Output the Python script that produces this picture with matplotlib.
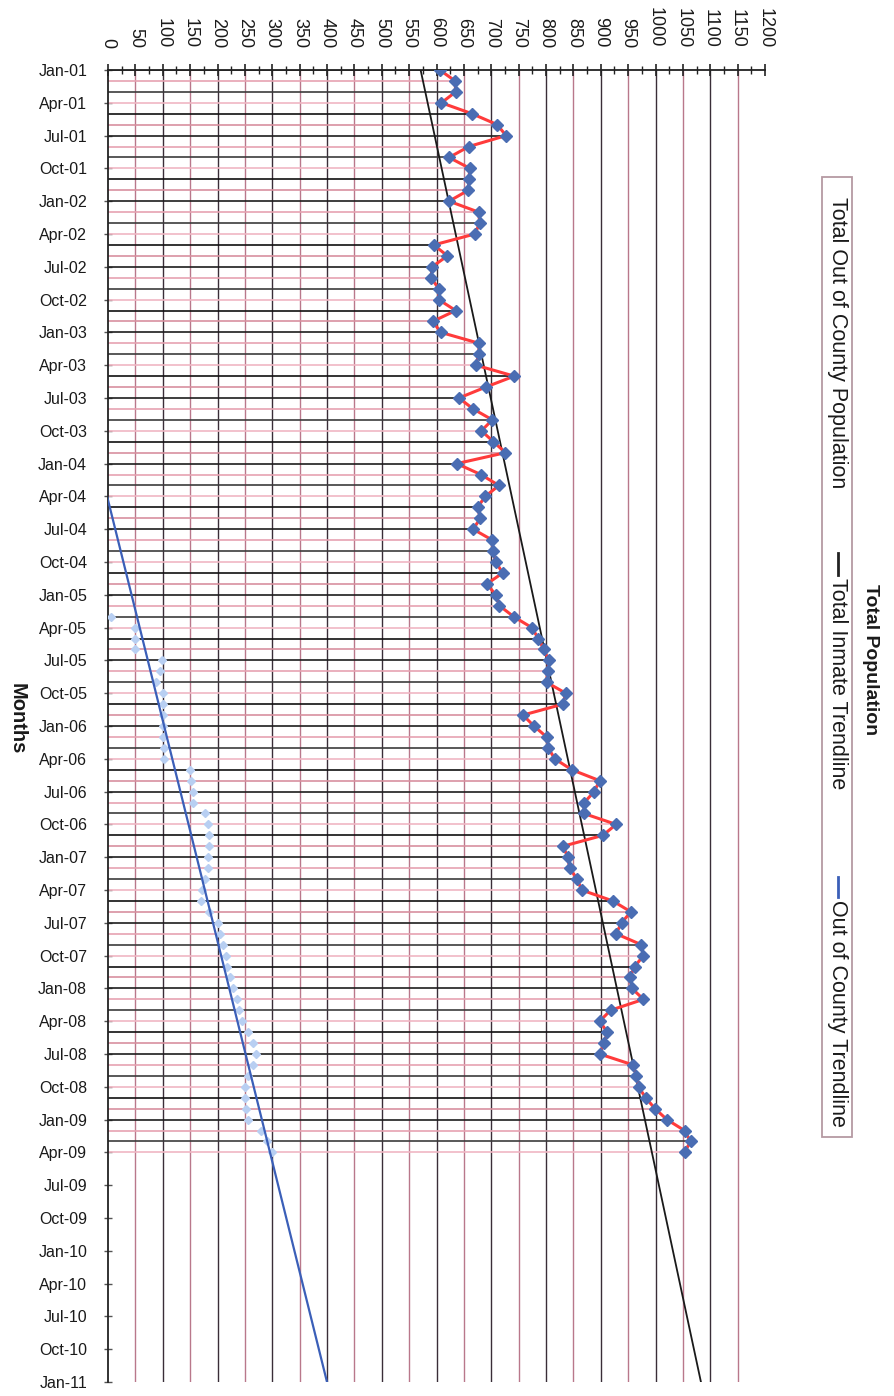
import numpy as np
import matplotlib
matplotlib.use("Agg")
import matplotlib.pyplot as plt
from matplotlib.patches import Rectangle
from matplotlib.lines import Line2D

plt.rcParams['font.family'] = ['Liberation Sans', 'DejaVu Sans']

# monthly totals, Jan-01 .. Apr-09 (month index 0..99)
total_pop = [606, 634, 635, 609, 665, 711, 727, 659, 623, 661,
             659, 658, 623, 677, 679, 670, 595, 620, 592, 590,
             604, 604, 635, 593, 608, 678, 677, 672, 742, 690,
             641, 667, 702, 682, 704, 726, 637, 681, 714, 689,
             675, 680, 667, 702, 703, 708, 721, 692, 708, 715,
             741, 774, 786, 796, 805, 803, 801, 836, 831, 758,
             778, 801, 804, 816, 847, 898, 888, 870, 869, 928,
             904, 831, 840, 843, 857, 865, 922, 955, 938, 928,
             974, 978, 962, 953, 957, 978, 918, 898, 912, 906,
             898, 959, 965, 969, 982, 999, 1021, 1053, 1064, 1053]
months = np.arange(len(total_pop))

# out of county population, Mar-05 .. Apr-09 (month index 50..99)
ooc_pop = [5, 50, 50, 50, 98, 95, 88, 100, 100, 100,
           100, 100, 102, 102, 150, 152, 155, 155, 178, 183,
           185, 185, 183, 182, 178, 172, 170, 185, 200, 205,
           210, 215, 218, 222, 228, 235, 240, 245, 255, 265,
           270, 265, 255, 250, 250, 252, 255, 280, 290, 300]
ooc_months = np.arange(50, 50 + len(ooc_pop))

# trendlines read at Jan-01 and Jan-11
trend_months = [0, 120]
inmate_trend = [571, 1083]
ooc_trend = [-195, 400]

QUARTERS = ["Jan", "Apr", "Jul", "Oct"]
YEARS = list(range(1, 12))
tick_labels = [f"{q}-{y:02d}" for y in YEARS for q in QUARTERS][:41]

W, H = 895, 1396
fig = plt.figure(figsize=(W / 100, H / 100), dpi=100)
ax = fig.add_axes([108 / W, 1 - 1382 / H, (765 - 108) / W, (1382 - 70) / H])

ax.set_xlim(0, 1200)
ax.set_ylim(120, 0)

# vertical grid (scan moire: dark / pink)
grid_x = np.arange(50, 1200, 50)
grid_cols = ["#3a2e38" if i % 2 else "#b9788b" for i in range(len(grid_x))]
ax.vlines(grid_x, 0, 120, colors=grid_cols, lw=1.0, zorder=1)

# drop lines from each point to the axis
drop_cycle = ["#1e1e1e", "#e6a2b1", "#3c3c3c", "#f0b6c3", "#111111", "#d8909f"]
drop_cols = [drop_cycle[i % len(drop_cycle)] for i in months]
ax.hlines(months, 0, total_pop, colors=drop_cols, lw=1.2, zorder=2)

ax.plot(ooc_pop, ooc_months, ls="none", marker="D", ms=4,
        color="#b8cff2", mec="#b8cff2", zorder=3)
ax.plot(inmate_trend, trend_months, color="#1a1a1a", lw=1.3, zorder=4)
ax.plot(ooc_trend, trend_months, color="#3b5fb8", lw=1.6, zorder=4)
ax.plot(total_pop, months, color="#ff3b3b", lw=2.2, zorder=5)
ax.plot(total_pop, months, ls="none", marker="D", ms=6.5,
        color="#4a6db3", mec="#4a6db3", zorder=6)

# axes
for s in ("right", "bottom"):
    ax.spines[s].set_visible(False)
ax.spines["top"].set_color("#222222")
ax.spines["left"].set_color("#222222")
ax.spines["top"].set_linewidth(1.3)
ax.spines["left"].set_linewidth(1.3)

ax.xaxis.set_ticks_position("top")
ax.set_xticks(np.arange(0, 1201, 50))
ax.set_xticks(np.arange(25, 1200, 50), minor=True)
ax.set_xticklabels([str(v) for v in range(0, 1201, 50)], rotation=-90,
                   fontsize=13, color="#1a1a1a")
ax.tick_params(axis="x", which="major", direction="inout", length=8,
               width=1.2, pad=12, color="#222222")
ax.tick_params(axis="x", which="minor", direction="inout", length=6,
               width=1.0, color="#222222")

ax.set_yticks(np.arange(0, 121, 3))
ax.set_yticklabels(tick_labels, fontsize=11.5, color="#1a1a1a")
ax.tick_params(axis="y", direction="inout", length=6, width=1.0, pad=12,
               color="#555555")

fig.text(17 / W, 1 - 719 / H, "Months", rotation=-90, fontsize=14.5,
         fontweight="bold", ha="center", va="center", color="#1a1a1a")
fig.text(871 / W, 1 - 660 / H, "Total Population", rotation=-90, fontsize=14,
         fontweight="bold", ha="center", va="center", color="#1a1a1a")

# legend box (drawn in figure pixels)
fig.patches.append(Rectangle((822 / W, 1 - 1137 / H), 30 / W, 960 / H,
                             transform=fig.transFigure, fill=False,
                             ec="#b59aa2", lw=1.3))
lx = 838 / W
fig.text(lx, 1 - 197 / H, "Total Out of County Population", rotation=-90,
         fontsize=15.5, ha="center", va="top", color="#1a1a1a")
fig.lines.append(Line2D([lx, lx], [1 - 553 / H, 1 - 575 / H],
                        transform=fig.transFigure, color="#222222", lw=2))
fig.text(lx, 1 - 578 / H, "Total Inmate Trendline", rotation=-90,
         fontsize=15.5, ha="center", va="top", color="#1a1a1a")
fig.lines.append(Line2D([lx, lx], [1 - 877 / H, 1 - 897 / H],
                        transform=fig.transFigure, color="#3b5fb8", lw=2))
fig.text(lx, 1 - 900 / H, "Out of County Trendline", rotation=-90,
         fontsize=15.5, ha="center", va="top", color="#1a1a1a")

fig.savefig("out.png", dpi=100, facecolor="white")
